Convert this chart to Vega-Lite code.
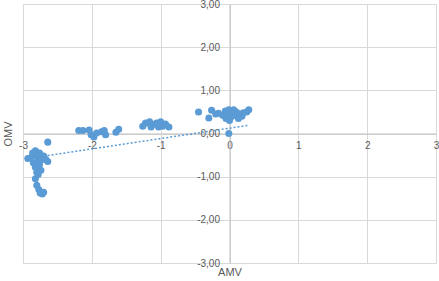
{
  "$schema": "https://vega.github.io/schema/vega-lite/v6.json",
  "width": 413,
  "height": 259,
  "autosize": {"type": "none"},
  "padding": {"left": 23, "top": 4, "right": 3, "bottom": 18},
  "background": "white",
  "config": {
    "view": {"stroke": null},
    "font": "Liberation Sans",
    "axis": {
      "labelFont": "Liberation Sans",
      "labelFontSize": 10,
      "labelColor": "#595959",
      "titleFont": "Liberation Sans",
      "titleFontSize": 11,
      "titleFontWeight": "normal",
      "titleColor": "#595959",
      "gridColor": "#d9d9d9",
      "gridWidth": 1,
      "domainColor": "#bfbfbf",
      "domainWidth": 1,
      "ticks": false,
      "labelOverlap": false,
      "labelBound": false,
      "labelFlush": false
    }
  },
  "datasets": {
    "pts": [
      {"AMV": -2.93, "OMV": -0.58}, {"AMV": -2.88, "OMV": -0.55}, {"AMV": -2.86, "OMV": -0.45},
      {"AMV": -2.82, "OMV": -0.4}, {"AMV": -2.8, "OMV": -0.52}, {"AMV": -2.78, "OMV": -0.62},
      {"AMV": -2.76, "OMV": -0.45}, {"AMV": -2.74, "OMV": -0.55}, {"AMV": -2.72, "OMV": -0.6},
      {"AMV": -2.7, "OMV": -0.52}, {"AMV": -2.67, "OMV": -0.6}, {"AMV": -2.64, "OMV": -0.65},
      {"AMV": -2.85, "OMV": -0.68}, {"AMV": -2.82, "OMV": -0.78}, {"AMV": -2.8, "OMV": -0.9},
      {"AMV": -2.78, "OMV": -0.95}, {"AMV": -2.82, "OMV": -1.05}, {"AMV": -2.8, "OMV": -1.2},
      {"AMV": -2.77, "OMV": -1.3}, {"AMV": -2.75, "OMV": -1.38}, {"AMV": -2.72, "OMV": -1.4},
      {"AMV": -2.7, "OMV": -1.36}, {"AMV": -2.74, "OMV": -0.85}, {"AMV": -2.76, "OMV": -0.72},
      {"AMV": -2.64, "OMV": -0.2},
      {"AMV": -2.19, "OMV": 0.07}, {"AMV": -2.13, "OMV": 0.07}, {"AMV": -2.04, "OMV": 0.08},
      {"AMV": -2.01, "OMV": -0.03}, {"AMV": -1.97, "OMV": -0.08}, {"AMV": -1.93, "OMV": 0.01},
      {"AMV": -1.86, "OMV": 0.04}, {"AMV": -1.82, "OMV": 0.07}, {"AMV": -1.8, "OMV": -0.03},
      {"AMV": -1.65, "OMV": 0.03}, {"AMV": -1.61, "OMV": 0.1},
      {"AMV": -1.26, "OMV": 0.17}, {"AMV": -1.22, "OMV": 0.24}, {"AMV": -1.16, "OMV": 0.27},
      {"AMV": -1.12, "OMV": 0.2}, {"AMV": -1.06, "OMV": 0.24}, {"AMV": -1.03, "OMV": 0.15},
      {"AMV": -0.97, "OMV": 0.17}, {"AMV": -0.93, "OMV": 0.22}, {"AMV": -0.88, "OMV": 0.15},
      {"AMV": -1.14, "OMV": 0.15}, {"AMV": -1.0, "OMV": 0.27},
      {"AMV": -0.45, "OMV": 0.5}, {"AMV": -0.3, "OMV": 0.36}, {"AMV": -0.26, "OMV": 0.54},
      {"AMV": -0.2, "OMV": 0.45}, {"AMV": -0.16, "OMV": 0.47}, {"AMV": -0.1, "OMV": 0.42},
      {"AMV": -0.06, "OMV": 0.52}, {"AMV": -0.03, "OMV": 0.46}, {"AMV": -0.01, "OMV": 0.55},
      {"AMV": 0.02, "OMV": 0.38}, {"AMV": 0.04, "OMV": 0.48}, {"AMV": 0.06, "OMV": 0.55},
      {"AMV": 0.08, "OMV": 0.42}, {"AMV": 0.1, "OMV": 0.5}, {"AMV": 0.13, "OMV": 0.35},
      {"AMV": 0.15, "OMV": 0.45}, {"AMV": 0.18, "OMV": 0.4}, {"AMV": 0.2, "OMV": 0.48},
      {"AMV": 0.25, "OMV": 0.5}, {"AMV": 0.28, "OMV": 0.55}, {"AMV": -0.05, "OMV": 0.35},
      {"AMV": 0.0, "OMV": 0.3}, {"AMV": -0.01, "OMV": 0.0}
    ],
    "trend": [
      {"AMV": -2.93, "OMV": -0.58},
      {"AMV": 0.28, "OMV": 0.19}
    ]
  },
  "layer": [
    {
      "data": {"name": "trend"},
      "mark": {"type": "line", "color": "#5b9bd5", "strokeDash": [2, 2], "strokeWidth": 1.5},
      "encoding": {
        "x": {
          "field": "AMV", "type": "quantitative",
          "scale": {"domain": [-3, 3], "nice": false, "zero": false},
          "axis": {
            "values": [-3, -2, -1, 0, 1, 2, 3],
            "offset": -129.5,
            "labelPadding": 7,
            "labelExpr": "replace(format(datum.value, 'd'), '\u2212', '-')",
            "title": "AMV",
            "titleX": 206.5,
            "titleY": 138.5,
            "titleBaseline": "middle",
            "titleAlign": "center"
          }
        },
        "y": {
          "field": "OMV", "type": "quantitative",
          "scale": {"domain": [-3, 3], "nice": false, "zero": false},
          "axis": {
            "values": [-3, -2, -1, 0, 1, 2, 3],
            "offset": -206.5,
            "labelPadding": 10,
            "labelExpr": "replace(replace(format(datum.value, '.2f'), '.', ','), '\u2212', '-')",
            "title": "OMV",
            "titleX": -221.5,
            "titleY": 129.5,
            "titleAngle": -90,
            "titleBaseline": "middle",
            "titleAlign": "center"
          }
        }
      }
    },
    {
      "data": {"name": "pts"},
      "mark": {"type": "point", "filled": true, "color": "#5b9bd5", "opacity": 1, "size": 50},
      "encoding": {
        "x": {"field": "AMV", "type": "quantitative"},
        "y": {"field": "OMV", "type": "quantitative"}
      }
    }
  ]
}
